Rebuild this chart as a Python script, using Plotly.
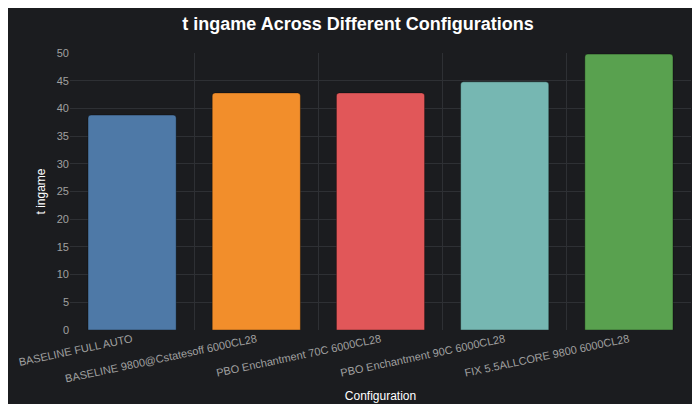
import plotly.graph_objects as go

configs = [
    "BASELINE FULL AUTO",
    "BASELINE 9800@Cstatesoff 6000CL28",
    "PBO Enchantment 70C 6000CL28",
    "PBO Enchantment 90C 6000CL28",
    "FIX 5.5ALLCORE 9800 6000CL28",
]
t_ingame = [38.8, 42.8, 42.8, 44.8, 49.8]
colors = ["#4e79a7", "#f28e2b", "#e15759", "#76b7b2", "#59a14f"]

BG = "#1b1c1f"
GRID = "#2e3034"
TICK = "#a0a0a0"

fig = go.Figure(
    go.Bar(
        x=list(range(len(configs))),
        y=t_ingame,
        width=0.71,
        marker=dict(color=colors, line=dict(color="rgba(0,0,0,0.35)", width=1),
                    cornerradius=3),
    )
)
fig.update_layout(
    width=700, height=404,
    paper_bgcolor=BG, plot_bgcolor=BG,
    font=dict(family="Liberation Sans, Arial", color="white"),
    title=dict(text="<b>t ingame Across Different Configurations</b>",
               x=0.5, xanchor="center", y=0.96, yanchor="middle",
               font=dict(size=18, color="white")),
    margin=dict(l=62, r=17, t=45, b=82),
    showlegend=False,
)
fig.update_xaxes(
    range=[-0.5, len(configs) - 0.5], automargin=False,
    tickvals=list(range(len(configs))), ticktext=configs, tickangle=-12,
    tickfont=dict(size=11, color=TICK),
    showgrid=False, zeroline=False,
    minor=dict(tick0=-0.5, dtick=1, showgrid=True, gridcolor=GRID),
    title=dict(text="Configuration", font=dict(size=12, color="white"), standoff=8),
)
fig.update_yaxes(
    range=[0, 50], dtick=5, gridcolor=GRID, zeroline=False, automargin=False,
    tickfont=dict(size=11, color=TICK),
    title=dict(text="t ingame", font=dict(size=12, color="white"), standoff=8),
)
fig.write_html("out.html")
